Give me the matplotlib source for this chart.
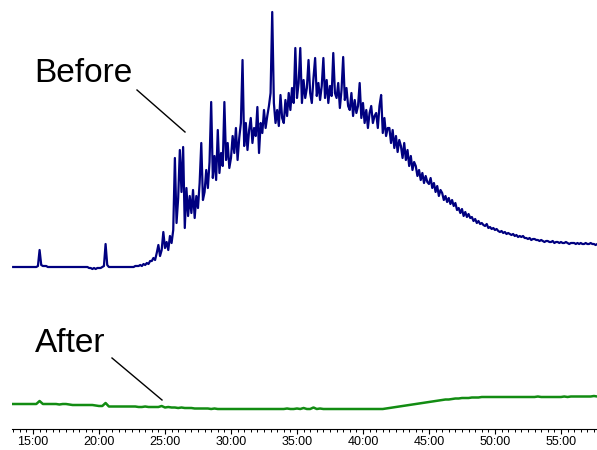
import numpy as np
import matplotlib
matplotlib.use("Agg")
import matplotlib.pyplot as plt
from matplotlib.ticker import MultipleLocator, FuncFormatter
from matplotlib.lines import Line2D

# sample clock of the two traces (minutes)
BEFORE_START = 13.5
BEFORE_STEP = 0.125   # 8 samples per minute
AFTER_START = 13.5
AFTER_STEP = 0.25     # 4 samples per minute

# "Before" trace, one row per minute (first row starts at 13:30)
before_rows = [
    [161, 161, 161, 161],                          # 13:30
    [161, 161, 161, 161, 161, 161, 161, 161],      # 14
    [161, 161, 161, 162, 178, 163, 162, 162],      # 15
    [162, 161, 161, 161, 161, 161, 161, 161],      # 16
    [161, 161, 161, 161, 161, 161, 161, 161],      # 17
    [161, 161, 161, 161, 161, 161, 161, 161],      # 18
    [161, 161, 160, 160, 159, 160, 159, 160],      # 19
    [160, 160, 161, 162, 184, 163, 161, 161],      # 20
    [161, 161, 161, 161, 161, 161, 161, 161],      # 21
    [161, 161, 161, 161, 161, 161, 162, 162],      # 22
    [162, 163, 162, 164, 163, 165, 164, 167],      # 23
    [167, 170, 168, 175, 183, 172, 178, 196],      # 24
    [180, 186, 178, 192, 185, 198, 270, 205],      # 25
    [230, 278, 236, 281, 200, 240, 212, 232],      # 26
    [215, 238, 210, 232, 220, 245, 285, 228],      # 27
    [236, 258, 240, 266, 326, 250, 272, 248],      # 28
    [298, 255, 275, 262, 326, 268, 285, 260],      # 29
    [270, 292, 275, 300, 268, 290, 305, 368],      # 30
    [282, 305, 278, 298, 310, 285, 300, 292],      # 31
    [321, 275, 305, 295, 318, 300, 312, 322],      # 32
    [335, 416, 325, 305, 318, 302, 333, 310],      # 33
    [305, 328, 312, 335, 318, 340, 325, 380],      # 34
    [330, 345, 380, 325, 348, 330, 340, 368],      # 35
    [335, 325, 350, 370, 332, 345, 328, 342],      # 36
    [370, 330, 348, 325, 342, 332, 375, 335],      # 37
    [330, 345, 320, 338, 371, 328, 340, 322],      # 38
    [318, 335, 312, 328, 315, 322, 345, 310],      # 39
    [325, 305, 318, 300, 315, 322, 305, 312],      # 40
    [315, 300, 322, 333, 295, 310, 292, 300],      # 41
    [300, 285, 298, 280, 292, 276, 288, 282],      # 42
    [270, 285, 268, 278, 262, 272, 258, 266],      # 43
    [262, 252, 258, 248, 255, 245, 252, 246],      # 44
    [244, 250, 240, 245, 236, 242, 232, 238],      # 45
    [235, 228, 232, 226, 230, 224, 228, 222],      # 46
    [225, 218, 220, 215, 219, 212, 216, 211],      # 47
    [214, 210, 211, 207, 209, 205, 207, 204],      # 48
    [205, 203, 202, 204, 200, 201, 199, 200],      # 49
    [198, 199, 197, 196, 197, 195, 196, 194],      # 50
    [195, 194, 193, 194, 192, 193, 191, 192],      # 51
    [191, 192, 190, 190, 189, 190, 188, 189],      # 52
    [189, 188, 188, 187, 188, 187, 186, 187],      # 53
    [187, 186, 186, 187, 185, 186, 186, 185],      # 54
    [186, 185, 185, 186, 185, 184, 185, 185],      # 55
    [185, 184, 185, 184, 185, 184, 184, 185],      # 56
    [184, 184, 185, 184, 184, 183, 184],           # 57
]

# "After" trace, one row per minute
after_rows = [
    [24, 24],                  # 13:30
    [24, 24, 24, 24],          # 14
    [24, 24, 27, 24],          # 15
    [24, 24, 24, 24],          # 16
    [23.5, 24, 24, 23.5],      # 17
    [23, 23, 23, 23],          # 18
    [23, 23, 23, 22.5],        # 19
    [22, 22, 25, 21.5],        # 20
    [21.5, 21.5, 21.5, 21.5],  # 21
    [21.5, 21.5, 21.5, 21.5],  # 22
    [21, 21, 21.5, 21],        # 23
    [21, 21, 21, 22],          # 24
    [20.5, 21, 20.5, 20.5],    # 25
    [20, 20.5, 20, 20],        # 26
    [20, 19.5, 19.5, 19.5],    # 27
    [19.5, 19.5, 19, 19.5],    # 28
    [19, 19, 19, 19],          # 29
    [19, 19, 19, 19],          # 30
    [19, 19, 19, 19],          # 31
    [19, 19, 19, 19],          # 32
    [19, 19, 19, 19],          # 33
    [19, 19.5, 19, 19],        # 34
    [19.5, 19, 20, 19],        # 35
    [19, 20.5, 19, 19.5],      # 36
    [19, 19, 19, 19],          # 37
    [19, 19, 19, 19],          # 38
    [19, 19, 19, 19],          # 39
    [19, 19, 19, 19],          # 40
    [19, 19, 19, 19.5],        # 41
    [20, 20.5, 21, 21.5],      # 42
    [22, 22.5, 23, 23.5],      # 43
    [24, 24.5, 25, 25.5],      # 44
    [26, 26.5, 27, 27.5],      # 45
    [28, 28.5, 28.5, 29],      # 46
    [29.5, 29.5, 30, 30],      # 47
    [30, 30.5, 30.5, 30.5],    # 48
    [31, 31, 31, 31],          # 49
    [31, 31, 31, 31],          # 50
    [31, 31, 31, 31],          # 51
    [31, 31, 31, 31],          # 52
    [31, 31.5, 31, 31],        # 53
    [31, 31, 31, 31],          # 54
    [31, 31.5, 31, 31.5],      # 55
    [31.5, 31.5, 31.5, 31.5],  # 56
    [31.5, 31.5, 32, 31.5],    # 57
]


def main():
    before = np.concatenate([np.array(r, float) for r in before_rows])
    after = np.concatenate([np.array(r, float) for r in after_rows])
    t_before = BEFORE_START + BEFORE_STEP * np.arange(len(before))
    t_after = AFTER_START + AFTER_STEP * np.arange(len(after))

    fig = plt.figure(figsize=(5.97, 4.5), dpi=100)
    ax = fig.add_axes([12/597, 21/450, 585/597, 429/450])

    ax.plot(t_before, before, color="#000080", lw=1.6)
    ax.plot(t_after, after, color="#128c12", lw=1.8)

    ax.set_xlim(13.41, 57.73)
    ax.set_ylim(-1, 428)

    for s in ("left", "right", "top"):
        ax.spines[s].set_visible(False)
    ax.spines["bottom"].set_linewidth(0.8)
    ax.set_yticks([])

    ax.xaxis.set_major_locator(MultipleLocator(5))
    ax.xaxis.set_minor_locator(MultipleLocator(0.5))
    ax.xaxis.set_major_formatter(FuncFormatter(
        lambda m, pos: "{:d}:{:02d}".format(int(m), int(round((m % 1) * 60)))))
    ax.tick_params(axis="x", which="major", length=3.8, width=0.8, pad=1.5,
                   labelsize=9)
    ax.tick_params(axis="x", which="minor", length=1.8, width=0.7)
    for lab in ax.get_xticklabels():
        lab.set_family("Liberation Sans")

    fig.text(34/597, 1 - 82/450, "Before", fontsize=24, family="Liberation Sans",
             ha="left", va="baseline")
    fig.text(35/597, 1 - 352/450, "After", fontsize=24, family="Liberation Sans",
             ha="left", va="baseline")
    fig.add_artist(Line2D([137/597, 185/597], [1 - 90/450, 1 - 132/450],
                          color="black", lw=1.0, transform=fig.transFigure))
    fig.add_artist(Line2D([112/597, 162/597], [1 - 358/450, 1 - 400/450],
                          color="black", lw=1.0, transform=fig.transFigure))

    fig.savefig("out.png", dpi=100)


if __name__ == "__main__":
    main()
